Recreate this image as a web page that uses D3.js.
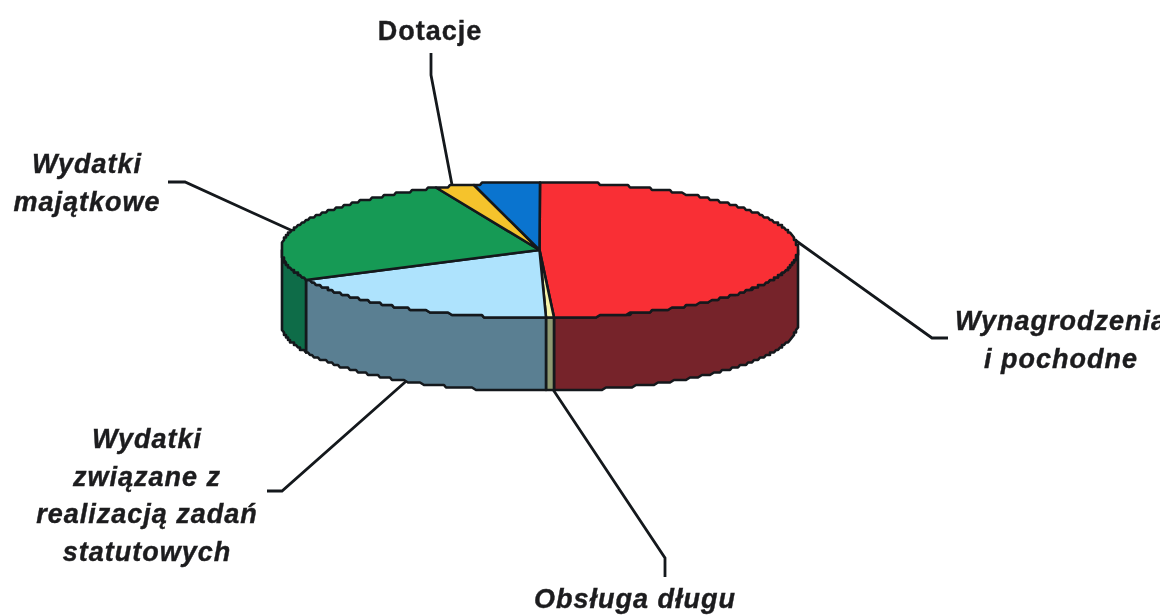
<!DOCTYPE html>
<html>
<head>
<meta charset="utf-8">
<script src="https://cdn.jsdelivr.net/npm/d3@7"></script>
<style>
  html, body { margin: 0; background: #fff; }
  svg { filter: blur(0.45px); }
  text { font-family: "Liberation Sans", Arial, sans-serif; font-weight: bold; fill: #1c1c1e; stroke: #1c1c1e; stroke-width: 0.4px; }
</style>
</head>
<body>
<div id="chart"></div>
<script>
// Slices, clockwise from the top (percent)
const categories = ["Wynagrodzenia i pochodne", "Obsługa długu", "Wydatki związane z realizacją zadań statutowych", "Wydatki majątkowe", "Dotacje", "Pozostałe"];
const values = [49.1, 0.55, 18.35, 25.5, 2.4, 4.1];
const topColors = ["#f92f35", "#f6f3a8", "#aee3fd", "#169a55", "#f5c32c", "#0a74cf"];
const sideColors = ["#76232a", "#8f9a72", "#5a7f92", "#0e6c48", "#9a7a1c", "#064a85"];

const width = 1167, height = 615;
const cx = 539.5, cy = 250, rx = 258.5, ry = 68, depth = 73;

const svg = d3.select("#chart").append("svg")
  .attr("width", width)
  .attr("height", height)
  .style("display", "block");

// unit circle -> pie plane
const xScale = d3.scaleLinear().domain([-1, 1]).range([cx - rx, cx + rx]);
const yScale = d3.scaleLinear().domain([-1, 1]).range([cy - ry, cy + ry]);

const arcs = d3.pie().sort(null).value(d => d)(values);

// the scan has a stepped rim, so snap the points a little
const snapX = v => Math.round(v / 2) * 2;
const snapY = v => Math.round(v / 2.5) * 2.5;
function rim(a, drop) {
  return [snapX(xScale(Math.sin(a))), snapY(yScale(-Math.cos(a)) + drop)];
}
function rimPoints(a0, a1, drop) {
  const n = Math.max(2, Math.ceil((a1 - a0) / 0.012));
  return d3.range(n + 1).map(i => rim(a0 + (a1 - a0) * i / n, drop));
}
const line = d3.line();

// Leader lines, behind the pie
const leaders = [
  [[431, 53], [431, 75], [453, 190]],
  [[168, 182], [185, 182], [295, 232]],
  [[795, 240], [932, 338], [948, 338]],
  [[412, 376], [282, 491], [267, 491]],
  [[550, 385], [665, 558], [665, 577]]
];
svg.append("g").selectAll("path")
  .data(leaders)
  .join("path")
    .attr("d", d => line(d))
    .attr("fill", "none")
    .attr("stroke", "#14181c")
    .attr("stroke-width", 2.8);

// Side walls: only the front part of the rim, pi/2 .. 3pi/2
const walls = arcs.map((d, i) => {
  const a0 = Math.max(d.startAngle, Math.PI / 2);
  const a1 = Math.min(d.endAngle, Math.PI * 3 / 2);
  return {i, a0, a1};
}).filter(d => d.a1 > d.a0);

svg.append("g").selectAll("path")
  .data(walls)
  .join("path")
    .attr("d", d => line(rimPoints(d.a0, d.a1, 0).concat(rimPoints(d.a0, d.a1, depth).reverse())) + "Z")
    .attr("fill", d => sideColors[d.i])
    .attr("stroke", "#14181c")
    .attr("stroke-width", 2.6)
    .attr("stroke-linejoin", "round");

svg.append("g").selectAll("path")
  .data(arcs)
  .join("path")
    .attr("d", d => line([[xScale(0), yScale(0)]].concat(rimPoints(d.startAngle, d.endAngle, 0))) + "Z")
    .attr("fill", (d, i) => topColors[i])
    .attr("stroke", "#14181c")
    .attr("stroke-width", 2.6)
    .attr("stroke-linejoin", "round");

// Labels
const labelLines = [
  {x: 430, y: 40, lines: ["Dotacje"], italic: false},
  {x: 87, y: 173, lines: ["Wydatki", "majątkowe"], italic: true},
  {x: 1061, y: 330, lines: ["Wynagrodzenia", "i pochodne"], italic: true},
  {x: 147, y: 448, lines: ["Wydatki", "związane z", "realizacją zadań", "statutowych"], italic: true},
  {x: 635, y: 608, lines: ["Obsługa długu"], italic: true}
];
svg.append("defs").append("clipPath").attr("id", "page-clip")
  .append("rect").attr("width", 1160).attr("height", height);

const labels = svg.append("g").attr("clip-path", "url(#page-clip)").selectAll("text")
  .data(labelLines)
  .join("text")
    .attr("text-anchor", "middle")
    .attr("font-size", 27)
    .attr("letter-spacing", 1)
    .attr("font-style", d => d.italic ? "italic" : "normal");
labels.selectAll("tspan")
  .data(d => d.lines.map((t, i) => ({t, i, x: d.x, y: d.y})))
  .join("tspan")
    .attr("x", d => d.x)
    .attr("y", d => d.y + d.i * 37.5)
    .text(d => d.t);
</script>
</body>
</html>
